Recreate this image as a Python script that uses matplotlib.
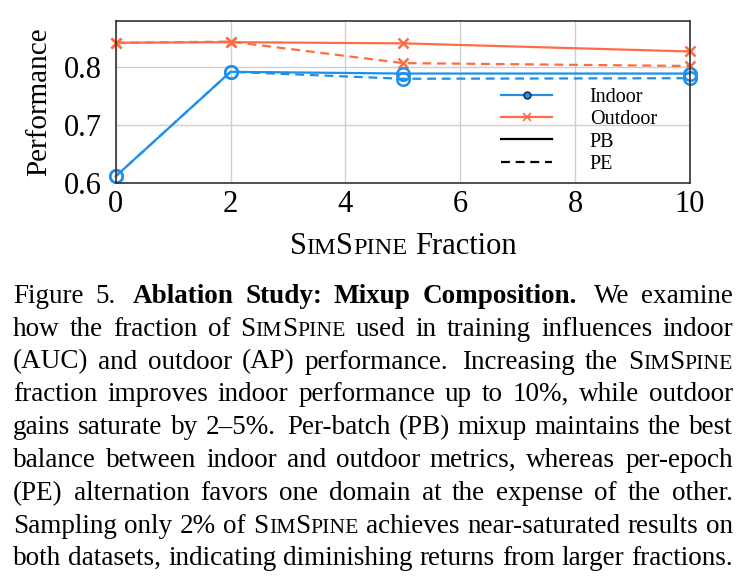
import matplotlib
matplotlib.use('Agg')
import matplotlib.pyplot as plt
from matplotlib.lines import Line2D

plt.rcParams['font.family'] = ['Liberation Serif', 'DejaVu Serif']

# data
fraction = [0, 2, 5, 10]
indoor_pb = [0.612, 0.792, 0.789, 0.789]
indoor_pe = [0.612, 0.792, 0.780, 0.781]
outdoor_pb = [0.842, 0.843, 0.841, 0.827]
outdoor_pe = [0.842, 0.844, 0.807, 0.802]

legend_labels = ['Indoor', 'Outdoor', 'PB', 'PE']

caption = [
    "Figure 5. *Ablation *Study: *Mixup *Composition. We examine",
    "how the fraction of SimSpine used in training influences indoor",
    "(AUC) and outdoor (AP) performance. Increasing the SimSpine",
    "fraction improves indoor performance up to 10%, while outdoor",
    "gains saturate by 2\u20135%. Per-batch (PB) mixup maintains the best",
    "balance between indoor and outdoor metrics, whereas per-epoch",
    "(PE) alternation favors one domain at the expense of the other.",
    "Sampling only 2% of SimSpine achieves near-saturated results on",
    "both datasets, indicating diminishing returns from larger fractions.",
]

blue = '#1f8fec'
orange = '#ff6b45'
W, H = 740, 588

fig = plt.figure(figsize=(7.4, 5.88), dpi=100)
ax = fig.add_axes([115.7 / W, 1 - 183.3 / H, (690 - 115.7) / W, (183.3 - 20.7) / H])

kw = dict(lw=1.6, clip_on=False)
dash = (0, (4, 2.6))
ax.plot(fraction, outdoor_pb, color=orange, marker='x', ms=7, mew=1.8, **kw)
ax.plot(fraction, outdoor_pe, color=orange, marker='x', ms=7, mew=1.8, ls=dash, **kw)
ax.plot(fraction, indoor_pb, color=blue, marker='o', ms=9, mfc='none', mew=1.8, **kw)
ax.plot(fraction, indoor_pe, color=blue, marker='o', ms=9, mfc='none', mew=1.8, ls=dash, **kw)

ax.set_xlim(0, 10)
ax.set_ylim(0.6, 0.88)
ax.set_xticks([0, 2, 4, 6, 8, 10])
ax.set_yticks([0.6, 0.7, 0.8])
ax.set_yticklabels(['0.6', '0.7', '0.8'])
ax.tick_params(length=0, labelsize=22)
ax.tick_params(axis='x', pad=5)
ax.tick_params(axis='y', pad=10)
ax.grid(color='#cfcfcf', lw=1)
ax.set_axisbelow(True)
for s in ax.spines.values():
    s.set_color('#333333')
    s.set_linewidth(1.2)

ax.set_ylabel('Performance', fontsize=21)
ax.yaxis.set_label_coords(-0.11, 0.5)

handles = [
    Line2D([], [], color=blue, lw=1.6, marker='o', ms=5, mfc=blue, mec='#10253d', mew=1),
    Line2D([], [], color=orange, lw=1.6, marker='x', ms=6, mew=1.2),
    Line2D([], [], color='black', lw=1.6),
    Line2D([], [], color='black', lw=1.6, ls=dash),
]
ax.legend(handles, legend_labels, loc='upper left', bbox_to_anchor=(0.671, 0.585),
          frameon=False, fontsize=14.5, handlelength=2.55, handletextpad=1.85,
          labelspacing=0.15, borderpad=0, borderaxespad=0)

renderer = fig.canvas.get_renderer()


def word_runs(word, size):
    weight = 'bold' if word.startswith('*') else 'normal'
    w = word.lstrip('*')
    if 'SimSpine' not in w:
        return [(w, size, weight)]
    runs = []
    for ch in w:
        s = size * 0.8 if ch.islower() else size
        if runs and runs[-1][1] == s:
            runs[-1][0] += ch.upper()
        else:
            runs.append([ch.upper(), s])
    return [(c, s, weight) for c, s in runs]


def width_of(t):
    return t.get_window_extent(renderer=renderer).width


def place_line(line, y_px, size, x0=None, x1=None, center=None):
    words = []
    for wd in line.split(' '):
        items = []
        for txt, s, weight in word_runs(wd, size):
            t = fig.text(0, 0, txt, fontsize=s, fontweight=weight, va='baseline', ha='left')
            items.append((t, width_of(t)))
        words.append((wd, items, sum(w for _, w in items)))
    probe = fig.text(0, 0, 'a a', fontsize=size)
    probe2 = fig.text(0, 0, 'aa', fontsize=size)
    space = width_of(probe) - width_of(probe2)
    probe.remove()
    probe2.remove()
    total = sum(w[2] for w in words)
    weights = [1.4 if w[0].endswith('.') else 1.0 for w in words[:-1]]
    if center is not None:
        gaps = [space] * len(weights)
        x = center - (total + sum(gaps)) / 2
    else:
        extra = (x1 - x0) - total
        gaps = [extra * k / sum(weights) for k in weights]
        x = x0
    for i, (_, items, wsum) in enumerate(words):
        xx = x
        for t, w in items:
            t.set_position((xx / W, 1 - y_px / H))
            xx += w
        x += wsum + (gaps[i] if i < len(gaps) else 0)


place_line('SimSpine Fraction', 254, 22, center=403)

for i, line in enumerate(caption):
    place_line(line, 303 + i * 32.8, 19.5, x0=13, x1=733)

fig.savefig('out.png', dpi=100)
